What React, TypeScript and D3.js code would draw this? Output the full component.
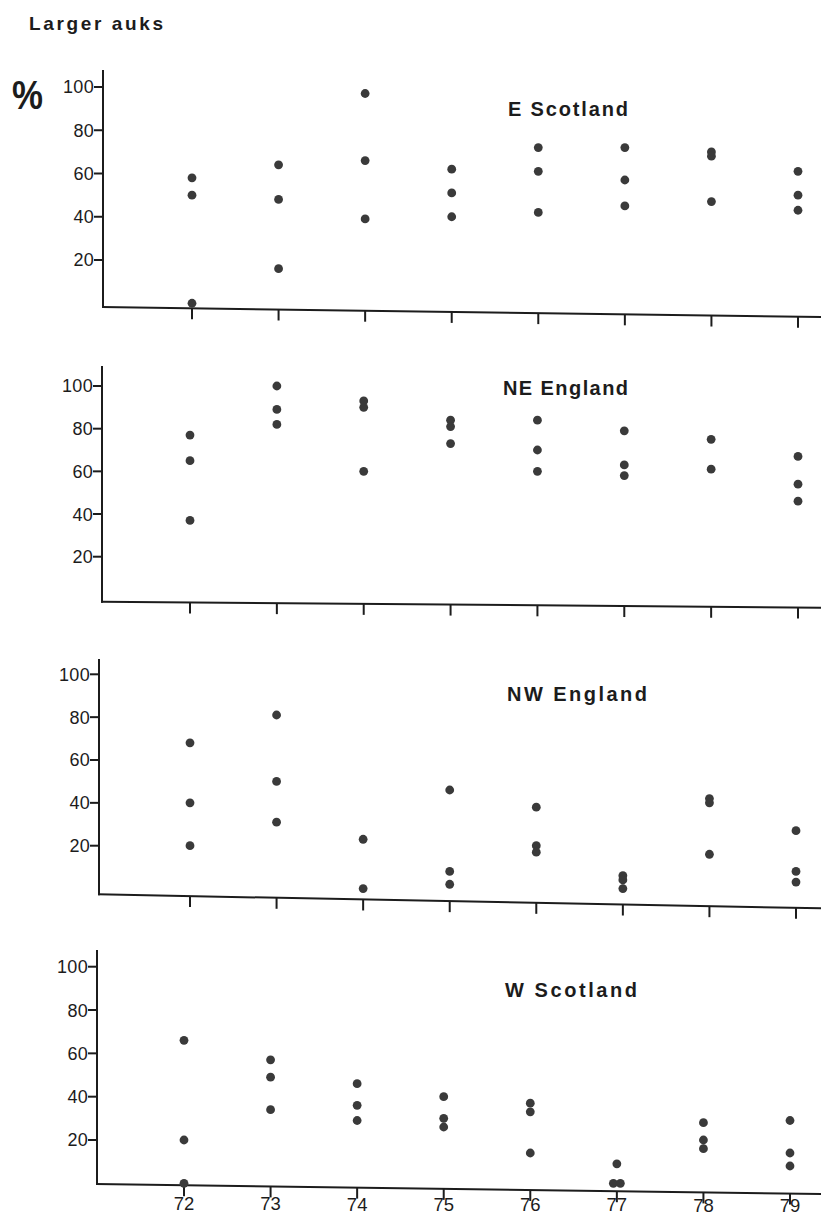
import React from 'react';
import * as d3 from 'd3';

const years = [72, 73, 74, 75, 76, 77, 78, 79];
const yTicks = [20, 40, 60, 80, 100];
const regions = ['E Scotland', 'NE England', 'NW England', 'W Scotland'];

const eScotland = [[58, 50, 0], [64, 48, 16], [97, 66, 39], [62, 51, 40], [72, 61, 42], [72, 57, 45], [70, 68, 47], [61, 50, 43]];
const neEngland = [[77, 65, 37], [100, 89, 82], [93, 90, 60], [84, 81, 73], [84, 70, 60], [79, 63, 58], [75, 61], [67, 54, 46]];
const nwEngland = [[68, 40, 20], [81, 50, 31], [23, 0], [46, 8, 2], [38, 20, 17], [6, 4, 0], [42, 40, 16], [27, 8, 3]];
const wScotland = [[66, 20, 0], [57, 49, 34], [46, 36, 29], [40, 30, 26], [37, 33, 14], [9, 0, 0], [28, 20, 16], [29, 14, 8]];

const seriesList = [eScotland, neEngland, nwEngland, wScotland];

const W = 821;
const H = 1216;
const INK = '#1c1c1c';
const DOT = '#3a3a3a';

// layout (pixel positions of each panel's frame)
const layout = [
  { axisX: 103, top: 70, y100: 87, y20: 260, x72: 192, x79: 798, baseOff: 3.8, tilt: 10, tx: 508, ty: 116, tl: 120 },
  { axisX: 102, top: 366, y100: 386, y20: 556.7, x72: 190, x79: 798, baseOff: 2.3, tilt: 6, tx: 503, ty: 395, tl: 125 },
  { axisX: 99, top: 659, y100: 674.3, y20: 845.7, x72: 190, x79: 796, baseOff: 5.8, tilt: 14, tx: 507, ty: 701, tl: 140 },
  { axisX: 97, top: 950, y100: 966.7, y20: 1140, x72: 184, x79: 790, baseOff: 0.7, tilt: 10, tx: 505, ty: 997, tl: 132 },
];

const FONT = "'Liberation Sans', Arial, Helvetica, sans-serif";

function Panel({ idx }: { idx: number }) {
  const L = layout[idx];
  const data = seriesList[idx];
  const x = d3.scaleLinear().domain([72, 79]).range([L.x72, L.x79]);
  const y = d3.scaleLinear().domain([20, 100]).range([L.y20, L.y100]);
  const by = (px: number) => y(0) + L.baseOff + ((px - L.axisX) * L.tilt) / (W - L.axisX);
  const labelY = (px: number) => y(0) + 26.5 + ((px - L.axisX) * L.tilt * 0.2) / (W - L.axisX);
  const isLast = idx === layout.length - 1;

  const dots: { cx: number; cy: number; key: string }[] = [];
  years.forEach((yr, j) => {
    const vals = data[j];
    vals.forEach((v, k) => {
      const same = vals.filter((u) => u === v).length;
      const order = vals.slice(0, k).filter((u) => u === v).length;
      const dx = (order - (same - 1) / 2) * 7;
      dots.push({ cx: x(yr) + dx, cy: y(v), key: `${yr}-${k}` });
    });
  });

  return (
    <g>
      {/* y axis */}
      <line x1={L.axisX} x2={L.axisX} y1={L.top} y2={by(L.axisX) + 1} stroke={INK} strokeWidth={2} />
      {yTicks.map((t) => (
        <g key={t}>
          <line x1={L.axisX - 9} x2={L.axisX} y1={y(t)} y2={y(t)} stroke={INK} strokeWidth={2} />
          <text x={L.axisX - 9} y={y(t)} dy="0.36em" textAnchor="end" fontFamily={FONT} fontSize={18} fill={INK} letterSpacing={0.3}>
            {t}
          </text>
        </g>
      ))}
      {/* baseline */}
      <line x1={L.axisX - 1} x2={W} y1={by(L.axisX - 1)} y2={by(W)} stroke={INK} strokeWidth={2} />
      {years.map((yr) => (
        <g key={yr}>
          <line x1={x(yr)} x2={x(yr)} y1={by(x(yr))} y2={by(x(yr)) + 11} stroke={INK} strokeWidth={2} />
          {isLast && (
            <text x={x(yr)} y={labelY(x(yr))} textAnchor="middle" fontFamily={FONT} fontSize={18.5} fill={INK}>
              {yr}
            </text>
          )}
        </g>
      ))}
      {/* title */}
      <text x={L.tx} y={L.ty} fontFamily={FONT} fontWeight="bold" fontSize={20} fill={INK} textLength={L.tl} lengthAdjust="spacing">
        {regions[idx]}
      </text>
      {/* dots */}
      {dots.map((d) => (
        <circle key={d.key} cx={d.cx} cy={d.cy} r={4.4} fill={DOT} />
      ))}
    </g>
  );
}

export default function App() {
  return (
    <svg width={W} height={H} viewBox={`0 0 ${W} ${H}`} style={{ position: 'absolute', left: 0, top: 0, background: '#fff' }}>
      <rect width={W} height={H} fill="#fff" />
      <text x={29} y={30} fontFamily={FONT} fontWeight="bold" fontSize={19} fill={INK} textLength={134} lengthAdjust="spacing">
        Larger  auks
      </text>
      <text x={12} y={109} fontFamily={FONT} fontWeight="bold" fontSize={40} fill={INK} textLength={31} lengthAdjust="spacingAndGlyphs">
        %
      </text>
      {layout.map((_, i) => (
        <Panel key={i} idx={i} />
      ))}
    </svg>
  );
}
